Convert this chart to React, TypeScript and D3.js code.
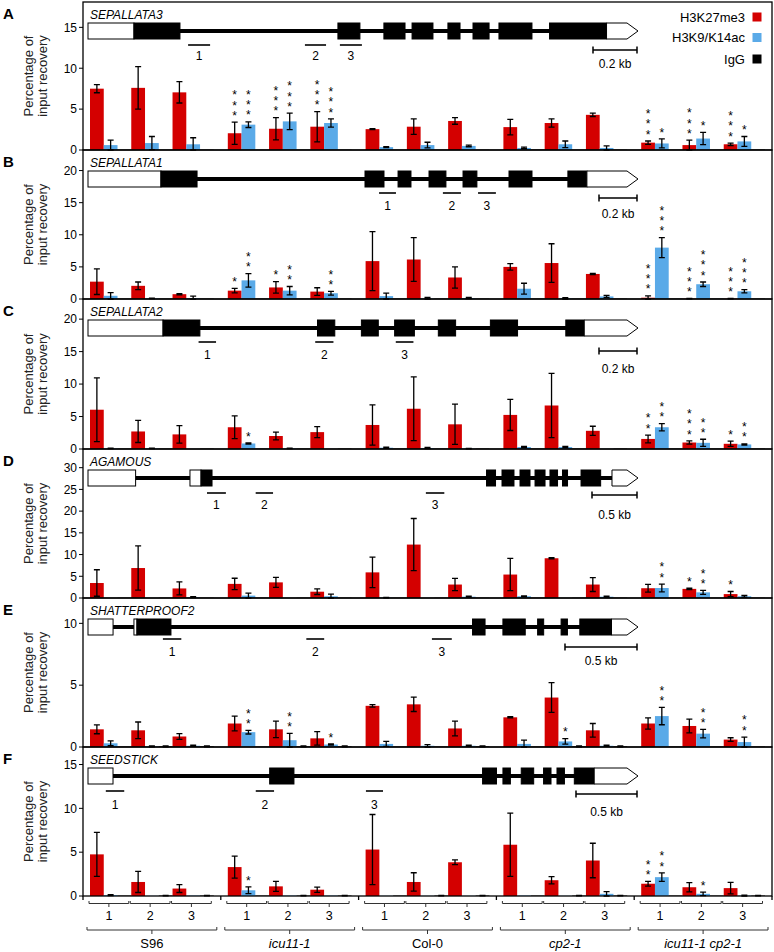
import React from "react";
import * as d3 from "d3";

// ---------- categories ----------
const groups = ["S96", "icu11-1", "Col-0", "cp2-1", "icu11-1 cp2-1"];
const groupItalic = [false, true, false, true, true];
const primers = ["1", "2", "3"];
const seriesNames = ["H3K27me3", "H3K9/K14ac", "IgG"];
const seriesColors = ["#d40000", "#5aaae8", "#000000"];

// ---------- A: SEPALLATA3 ----------
const sep3K27 = [7.5, 7.6, 7.05, 2.05, 2.6, 2.85, 2.55, 2.85, 3.55, 2.8, 3.3, 4.3, 0.9, 0.6, 0.7];
const sep3K27Err = [0.5, 2.6, 1.3, 1.35, 1.35, 1.85, 0.05, 0.95, 0.4, 0.95, 0.5, 0.2, 0.2, 0.6, 0.15];
const sep3Ac = [0.6, 0.85, 0.7, 3.1, 3.5, 3.3, 0.35, 0.6, 0.5, 0.25, 0.7, 0.25, 0.8, 1.4, 1.05];
const sep3AcErr = [0.6, 0.8, 0.8, 0.35, 1.0, 0.5, 0.05, 0.35, 0.1, 0.1, 0.4, 0.25, 0.55, 0.75, 0.6];
const sep3IgG = [0.03, 0.03, 0.03, 0.03, 0.03, 0.03, 0.03, 0.03, 0.03, 0.05, 0.03, 0.03, 0.03, 0.03, 0.05];
const sep3IgGErr = [0, 0, 0, 0, 0, 0, 0, 0, 0, 0, 0, 0, 0, 0, 0];
const sep3K27Sig = ["", "", "", "***", "***", "***", "", "", "", "", "", "", "***", "***", "***"];
const sep3AcSig = ["", "", "", "***", "***", "***", "", "", "", "", "", "", "*", "*", "*"];

// ---------- B: SEPALLATA1 ----------
const sep1K27 = [2.7, 2.05, 0.75, 1.3, 1.8, 1.15, 5.9, 6.15, 3.35, 5.0, 5.6, 3.9, 0.2, 0.05, 0.05];
const sep1K27Err = [2.0, 0.6, 0.1, 0.35, 0.9, 0.6, 4.6, 3.4, 1.65, 0.5, 3.0, 0.1, 0.3, 0.03, 0.03];
const sep1Ac = [0.5, 0.1, 0.15, 2.9, 1.3, 0.9, 0.45, 0.05, 0.15, 1.6, 0.1, 0.4, 8.0, 2.3, 1.2];
const sep1AcErr = [0.5, 0.05, 0.3, 1.05, 0.65, 0.3, 0.45, 0.2, 0.1, 0.85, 0.1, 0.15, 1.55, 0.35, 0.25];
const sep1IgG = [0.05, 0.05, 0.05, 0.05, 0.05, 0.05, 0.05, 0.05, 0.05, 0.05, 0.05, 0.05, 0.05, 0.05, 0.05];
const sep1IgGErr = [0, 0, 0, 0, 0, 0, 0, 0, 0, 0, 0, 0, 0, 0, 0];
const sep1K27Sig = ["", "", "", "*", "*", "", "", "", "", "", "", "", "***", "***", "***"];
const sep1AcSig = ["", "", "", "**", "**", "**", "", "", "", "", "", "", "***", "***", "***"];

// ---------- C: SEPALLATA2 ----------
const sep2K27 = [6.05, 2.7, 2.25, 3.35, 2.0, 2.6, 3.7, 6.2, 3.8, 5.25, 6.7, 2.8, 1.55, 1.0, 0.8];
const sep2K27Err = [4.9, 1.7, 1.35, 1.75, 0.6, 0.85, 3.1, 4.9, 3.1, 2.4, 4.95, 0.7, 0.6, 0.25, 0.4];
const sep2Ac = [0.1, 0.1, 0.02, 0.85, 0.1, 0.02, 0.2, 0.15, 0.05, 0.3, 0.3, 0.02, 3.35, 0.95, 0.7];
const sep2AcErr = [0.05, 0.05, 0, 0.1, 0.05, 0, 0.1, 0.1, 0.03, 0.1, 0.1, 0, 0.55, 0.55, 0.1];
const sep2IgG = [0.05, 0.05, 0.05, 0.05, 0.05, 0.05, 0.05, 0.05, 0.05, 0.05, 0.05, 0.05, 0.05, 0.05, 0.05];
const sep2IgGErr = [0, 0, 0, 0, 0, 0, 0, 0, 0, 0, 0, 0, 0, 0, 0];
const sep2K27Sig = ["", "", "", "", "", "", "", "", "", "", "", "", "**", "***", "*"];
const sep2AcSig = ["", "", "", "*", "", "", "", "", "", "", "", "", "**", "**", "**"];

// ---------- D: AGAMOUS ----------
const agK27 = [3.45, 6.9, 2.2, 3.25, 3.6, 1.45, 5.9, 12.3, 3.1, 5.4, 9.15, 3.1, 2.25, 2.1, 0.9];
const agK27Err = [3.05, 5.1, 1.5, 1.3, 1.15, 0.65, 3.5, 6.0, 1.4, 3.7, 0.15, 1.6, 0.9, 0.15, 0.6];
const agAc = [0.02, 0.02, 0.2, 0.55, 0.02, 0.4, 0.1, 0.02, 0.3, 0.4, 0.02, 0.3, 2.3, 1.3, 0.4];
const agAcErr = [0, 0, 0.1, 0.55, 0, 0.5, 0.05, 0, 0.1, 0.1, 0, 0.1, 0.9, 0.45, 0.2];
const agIgG = [0.05, 0.05, 0.05, 0.05, 0.05, 0.05, 0.05, 0.05, 0.05, 0.05, 0.05, 0.05, 0.05, 0.05, 0.05];
const agIgGErr = [0, 0, 0, 0, 0, 0, 0, 0, 0, 0, 0, 0, 0, 0, 0];
const agK27Sig = ["", "", "", "", "", "", "", "", "", "", "", "", "", "*", "*"];
const agAcSig = ["", "", "", "", "", "", "", "", "", "", "", "", "**", "**", ""];

// ---------- E: SHATTERPROOF2 ----------
const shpK27 = [1.43, 1.35, 0.85, 1.9, 1.43, 0.7, 3.33, 3.45, 1.5, 2.4, 4.0, 1.35, 1.9, 1.7, 0.6];
const shpK27Err = [0.36, 0.67, 0.23, 0.6, 0.67, 0.55, 0.1, 0.58, 0.6, 0.05, 1.2, 0.55, 0.45, 0.55, 0.15];
const shpAc = [0.3, 0.05, 0.1, 1.2, 0.55, 0.2, 0.25, 0.1, 0.1, 0.25, 0.45, 0.1, 2.5, 1.08, 0.4];
const shpAcErr = [0.2, 0.03, 0.05, 0.15, 0.55, 0.05, 0.2, 0.1, 0.05, 0.3, 0.22, 0.05, 0.7, 0.35, 0.4];
const shpIgG = [0.03, 0.05, 0.05, 0.03, 0.05, 0.05, 0.03, 0.03, 0.05, 0.03, 0.05, 0.05, 0.03, 0.03, 0.03];
const shpIgGErr = [0, 0.03, 0.03, 0, 0.03, 0.03, 0, 0, 0.03, 0, 0.03, 0.03, 0, 0, 0];
const shpK27Sig = ["", "", "", "", "", "", "", "", "", "", "", "", "", "", ""];
const shpAcSig = ["", "", "", "**", "**", "*", "", "", "", "", "*", "", "**", "**", "**"];

// ---------- F: SEEDSTICK ----------
const stkK27 = [4.75, 1.6, 0.85, 3.3, 1.1, 0.72, 5.3, 1.6, 3.85, 5.85, 1.8, 4.05, 1.4, 1.0, 0.9];
const stkK27Err = [2.5, 1.2, 0.45, 1.25, 0.57, 0.3, 4.0, 1.05, 0.28, 3.6, 0.42, 1.97, 0.28, 0.53, 0.65];
const stkAc = [0.1, 0.02, 0.05, 0.65, 0.05, 0.05, 0.02, 0.02, 0.02, 0.05, 0.02, 0.25, 2.15, 0.25, 0.05];
const stkAcErr = [0.05, 0, 0, 0.38, 0, 0, 0, 0, 0, 0, 0, 0.25, 0.48, 0.2, 0.05];
const stkIgG = [0.05, 0.05, 0.05, 0.05, 0.05, 0.05, 0.05, 0.05, 0.05, 0.05, 0.05, 0.05, 0.05, 0.05, 0.05];
const stkIgGErr = [0, 0.03, 0.03, 0, 0.03, 0.03, 0, 0.03, 0.03, 0, 0.03, 0.03, 0, 0, 0.03];
const stkK27Sig = ["", "", "", "", "", "", "", "", "", "", "", "", "**", "", ""];
const stkAcSig = ["", "", "", "*", "", "", "", "", "", "", "", "", "**", "*", ""];

// ---------- y axes ----------
const yMaxes = [18.1, 23.2, 23.1, 34.3, 12.05, 17];
const yTicksA = [0, 5, 10, 15];
const yTicksB = [0, 5, 10, 15, 20];
const yTicksC = [0, 5, 10, 15, 20];
const yTicksD = [0, 5, 10, 15, 20, 25, 30];
const yTicksE = [0, 5, 10];
const yTicksF = [0, 5, 10, 15];

// ---------- gene models (bp) ----------
type Feat = [number, number];
const geneNames = ["SEPALLATA3", "SEPALLATA1", "SEPALLATA2", "AGAMOUS", "SHATTERPROOF2", "SEEDSTICK"];
const geneLengths = [2500, 2895, 2895, 6111, 3819, 4508];
const geneUtr5: Feat[][] = [
  [[0, 209]],
  [[0, 384]],
  [[0, 395]],
  [[0, 529], [1133, 1256]],
  [[0, 174], [319, 340]],
  [[0, 205]],
];
const geneExons: Feat[][] = [
  [[209, 418], [1136, 1236], [1345, 1441], [1473, 1568], [1636, 1691], [1750, 1823], [1868, 2018], [2098, 2357]],
  [[384, 574], [1458, 1558], [1632, 1700], [1795, 1884], [1974, 2047], [2216, 2337], [2526, 2626]],
  [[395, 589], [1208, 1299], [1439, 1528], [1614, 1718], [1844, 1935], [2118, 2261], [2515, 2612]],
  [[1256, 1378], [4428, 4528], [4600, 4733], [4800, 4911], [4967, 5078], [5133, 5217], [5272, 5328], [5478, 5696]],
  [[340, 576], [2670, 2757], [2881, 3036], [3122, 3164], [3285, 3329], [3415, 3635]],
  [[1489, 1688], [3234, 3348], [3401, 3462], [3551, 3653], [3734, 3795], [3844, 3905], [3986, 4149]],
];
const geneUtr3: Feat[] = [[2357, 2500], [2626, 2895], [2612, 2895], [5822, 6111], [3635, 3819], [4149, 4508]];
const genePrimers: Feat[][] = [
  [[455, 555], [986, 1082], [1145, 1245]],
  [[1532, 1621], [1868, 1963], [2053, 2147]],
  [[582, 674], [1196, 1292], [1620, 1713]],
  [[1322, 1532], [1863, 2056], [3754, 3959]],
  [[520, 648], [1516, 1640], [2388, 2526]],
  [[146, 297], [1375, 1525], [2278, 2418]],
];
const scaleBarBp = [200, 200, 200, 500, 500, 500];
const scaleBarLabels = ["0.2 kb", "0.2 kb", "0.2 kb", "0.5 kb", "0.5 kb", "0.5 kb"];

// ---------- layout (positions only) ----------
const plotLeft = 83;
const plotRight = 772;
const panelTops = [2, 150, 299, 449, 598, 747];
const panelBottoms = [150, 299, 449, 598, 747, 896];
const panelLetters = ["A", "B", "C", "D", "E", "F"];
const primerLineOff = [43, 43, 43, 44, 41, 44];
const primerLabelOff = [58, 60, 60, 60, 58, 62];
const scaleBarOff = [48, 48, 52, 46, 49, 47];
const scaleLabelOff = [66, 68, 74, 70, 67, 69];
const geneX0 = 88;
const geneX1 = 638;
const starStep = 8.3;

const panelData = [
  { k27: sep3K27, k27e: sep3K27Err, ac: sep3Ac, ace: sep3AcErr, igg: sep3IgG, igge: sep3IgGErr, s1: sep3K27Sig, s2: sep3AcSig, ticks: yTicksA },
  { k27: sep1K27, k27e: sep1K27Err, ac: sep1Ac, ace: sep1AcErr, igg: sep1IgG, igge: sep1IgGErr, s1: sep1K27Sig, s2: sep1AcSig, ticks: yTicksB },
  { k27: sep2K27, k27e: sep2K27Err, ac: sep2Ac, ace: sep2AcErr, igg: sep2IgG, igge: sep2IgGErr, s1: sep2K27Sig, s2: sep2AcSig, ticks: yTicksC },
  { k27: agK27, k27e: agK27Err, ac: agAc, ace: agAcErr, igg: agIgG, igge: agIgGErr, s1: agK27Sig, s2: agAcSig, ticks: yTicksD },
  { k27: shpK27, k27e: shpK27Err, ac: shpAc, ace: shpAcErr, igg: shpIgG, igge: shpIgGErr, s1: shpK27Sig, s2: shpAcSig, ticks: yTicksE },
  { k27: stkK27, k27e: stkK27Err, ac: stkAc, ace: stkAcErr, igg: stkIgG, igge: stkIgGErr, s1: stkK27Sig, s2: stkAcSig, ticks: yTicksF },
];

const FONT = "'Liberation Sans', Arial, Helvetica, sans-serif";

const xGroup = d3.scaleBand<string>().domain(groups).range([plotLeft, plotRight]).paddingInner(0).paddingOuter(0);
const gw = xGroup.bandwidth();
const xPrimer = d3.scaleBand<string>().domain(primers).range([7, gw - 7]).padding(0);
const xSeries = d3.scaleBand<string>().domain(seriesNames).range([0, xPrimer.bandwidth()]).padding(0);

function Gene({ i }: { i: number }) {
  const top = panelTops[i];
  const x = d3.scaleLinear().domain([0, geneLengths[i]]).range([geneX0, geneX1]);
  const boxTop = top + 21;
  const boxH = 16;
  const mid = boxTop + boxH / 2;
  const u3 = geneUtr3[i];
  const head = 11;
  const arrow = `M${x(u3[0])},${boxTop} H${x(u3[1]) - head} L${x(u3[1])},${mid} L${x(u3[1]) - head},${boxTop + boxH} H${x(u3[0])} Z`;
  const pY = top + primerLineOff[i];
  const sbY = top + scaleBarOff[i];
  const sb0 = x(geneLengths[i] - scaleBarBp[i]) - 1;
  const sb1 = x(geneLengths[i]) - 1;
  return (
    <g>
      <line x1={x(0)} x2={x(u3[0])} y1={mid} y2={mid} stroke="#000" strokeWidth={4} />
      {geneUtr5[i].map((f, k) => (
        <rect key={"u" + k} x={x(f[0])} y={boxTop} width={x(f[1]) - x(f[0])} height={boxH} fill="#fff" stroke="#000" strokeWidth={1} />
      ))}
      {geneExons[i].map((f, k) => (
        <rect key={"e" + k} x={x(f[0])} y={boxTop} width={x(f[1]) - x(f[0])} height={boxH} fill="#000" stroke="#000" strokeWidth={1} />
      ))}
      <path d={arrow} fill="#fff" stroke="#000" strokeWidth={1} />
      {genePrimers[i].map((f, k) => (
        <g key={"p" + k}>
          <line x1={x(f[0])} x2={x(f[1])} y1={pY} y2={pY} stroke="#000" strokeWidth={1.6} />
          <text x={(x(f[0]) + x(f[1])) / 2} y={top + primerLabelOff[i]} textAnchor="middle" fontSize={12} fontFamily={FONT}>
            {primers[k]}
          </text>
        </g>
      ))}
      <path d={`M${sb0},${sbY - 3.5} V${sbY + 3.5} M${sb0},${sbY} H${sb1} M${sb1},${sbY - 3.5} V${sbY + 3.5}`} stroke="#000" strokeWidth={1.5} fill="none" />
      <text x={(sb0 + sb1) / 2} y={top + scaleLabelOff[i]} textAnchor="middle" fontSize={12} fontFamily={FONT}>
        {scaleBarLabels[i]}
      </text>
    </g>
  );
}

function Panel({ i }: { i: number }) {
  const top = panelTops[i];
  const bottom = panelBottoms[i];
  const d = panelData[i];
  const y = d3.scaleLinear().domain([0, yMaxes[i]]).range([bottom, top]);
  const mid = (top + bottom) / 2;
  const vals = [d.k27, d.ac, d.igg];
  const errs = [d.k27e, d.ace, d.igge];
  const sigs = [d.s1, d.s2, null];
  const bars: any[] = [];
  const errMarks: any[] = [];
  const stars: any[] = [];
  groups.forEach((g, gi) => {
    primers.forEach((p, pi) => {
      const idx = gi * 3 + pi;
      seriesNames.forEach((s, si) => {
        const v = vals[si][idx];
        const e = errs[si][idx];
        const bx = (xGroup(g) as number) + (xPrimer(p) as number) + (xSeries(s) as number);
        const bw = xSeries.bandwidth();
        const cx = bx + bw / 2;
        bars.push(
          <rect key={`b${idx}-${si}`} x={bx} y={y(v)} width={bw} height={y(0) - y(v)} fill={seriesColors[si]} />
        );
        if (e > 0) {
          const y1 = y(v + e);
          const y2 = y(Math.max(0, v - e));
          errMarks.push(
            <path key={`e${idx}-${si}`} d={`M${cx},${y1} V${y2} M${cx - 3},${y1} H${cx + 3} M${cx - 3},${y2} H${cx + 3}`} stroke="#000" strokeWidth={1.3} fill="none" />
          );
        }
        const sg = sigs[si] ? (sigs[si] as string[])[idx] : "";
        if (sg) {
          const topY = y(v + e);
          // stacked asterisks in one vertical text run
          const bottomEdge = topY - 3;
          stars.push(
            <text
              key={`s${idx}-${si}`}
              x={cx}
              y={bottomEdge}
              textAnchor="end"
              fontSize={12}
              fontFamily={FONT}
              letterSpacing={starStep - 12}
              style={{ writingMode: "vertical-rl", textOrientation: "upright" } as any}
            >
              {sg}
            </text>
          );
        }
      });
    });
  });
  return (
    <g>
      {bars}
      {errMarks}
      {stars}
      <rect x={plotLeft} y={top} width={plotRight - plotLeft} height={bottom - top} fill="none" stroke="#000" strokeWidth={1.3} />
      {d.ticks.map((t) => (
        <g key={"t" + t}>
          <line x1={plotLeft - 4} x2={plotLeft} y1={y(t)} y2={y(t)} stroke="#000" strokeWidth={1} />
          <text x={plotLeft - 6} y={y(t) + 4.3} textAnchor="end" fontSize={12} fontFamily={FONT}>
            {t}
          </text>
        </g>
      ))}
      <text x={3} y={top + 17} fontSize={15} fontWeight="bold" fontFamily={FONT}>
        {panelLetters[i]}
      </text>
      <text x={90} y={top + 17} fontSize={12} fontStyle="italic" fontFamily={FONT}>
        {geneNames[i]}
      </text>
      <text transform={`translate(33,${mid}) rotate(-90)`} textAnchor="middle" fontSize={13} fontFamily={FONT} fill="#222">
        Percentage of
      </text>
      <text transform={`translate(47,${mid}) rotate(-90)`} textAnchor="middle" fontSize={13} fontFamily={FONT} fill="#222">
        input recovery
      </text>
      <Gene i={i} />
    </g>
  );
}

function Legend() {
  const ys = [17, 37.5, 59];
  return (
    <g>
      {seriesNames.map((s, k) => (
        <g key={s}>
          <text x={745} y={ys[k] + 4.5} textAnchor="end" fontSize={13} fontFamily={FONT}>
            {s}
          </text>
          <rect x={752.5} y={ys[k] - 4.5} width={9} height={9} fill={seriesColors[k]} />
        </g>
      ))}
    </g>
  );
}

function BottomAxis() {
  const base = panelBottoms[5];
  const bounds = [...groups.map((g) => xGroup(g) as number), plotRight];
  return (
    <g>
      {bounds.map((b, k) => (
        <line key={"gt" + k} x1={b} x2={b} y1={base} y2={base + 4} stroke="#000" strokeWidth={1.3} />
      ))}
      {groups.map((g, gi) => {
        const gx = xGroup(g) as number;
        return (
          <g key={g}>
            {primers.map((p) => {
              const s0 = gx + (xPrimer(p) as number);
              const s1 = s0 + xPrimer.bandwidth();
              const a = s0 - 1;
              const b = s1 - 2.5;
              const m = (a + b) / 2;
              return (
                <g key={p}>
                  <path d={`M${a},${base + 5} V${base + 7.5} H${b} V${base + 5} M${m},${base + 7.5} V${base + 11}`} stroke="#333" strokeWidth={1} fill="none" />
                  <text x={m} y={base + 24} textAnchor="middle" fontSize={12.5} fontFamily={FONT}>
                    {p}
                  </text>
                </g>
              );
            })}
            <path
              d={`M${gx + 4},${base + 31} V${base + 34} H${gx + gw - 4} V${base + 31} M${gx + gw / 2},${base + 34} V${base + 38}`}
              stroke="#333"
              strokeWidth={1}
              fill="none"
            />
            <text x={gx + gw / 2} y={base + 52} textAnchor="middle" fontSize={13} fontStyle={groupItalic[gi] ? "italic" : "normal"} fontFamily={FONT}>
              {g}
            </text>
          </g>
        );
      })}
    </g>
  );
}

export default function App() {
  return (
    <svg width={774} height={952} viewBox="0 0 774 952" style={{ display: "block", position: "absolute", left: 0, top: 0, background: "#fff" }}>
      <rect x={0} y={0} width={774} height={952} fill="#fff" />
      {panelTops.map((_, i) => (
        <Panel key={i} i={i} />
      ))}
      <Legend />
      <BottomAxis />
    </svg>
  );
}
